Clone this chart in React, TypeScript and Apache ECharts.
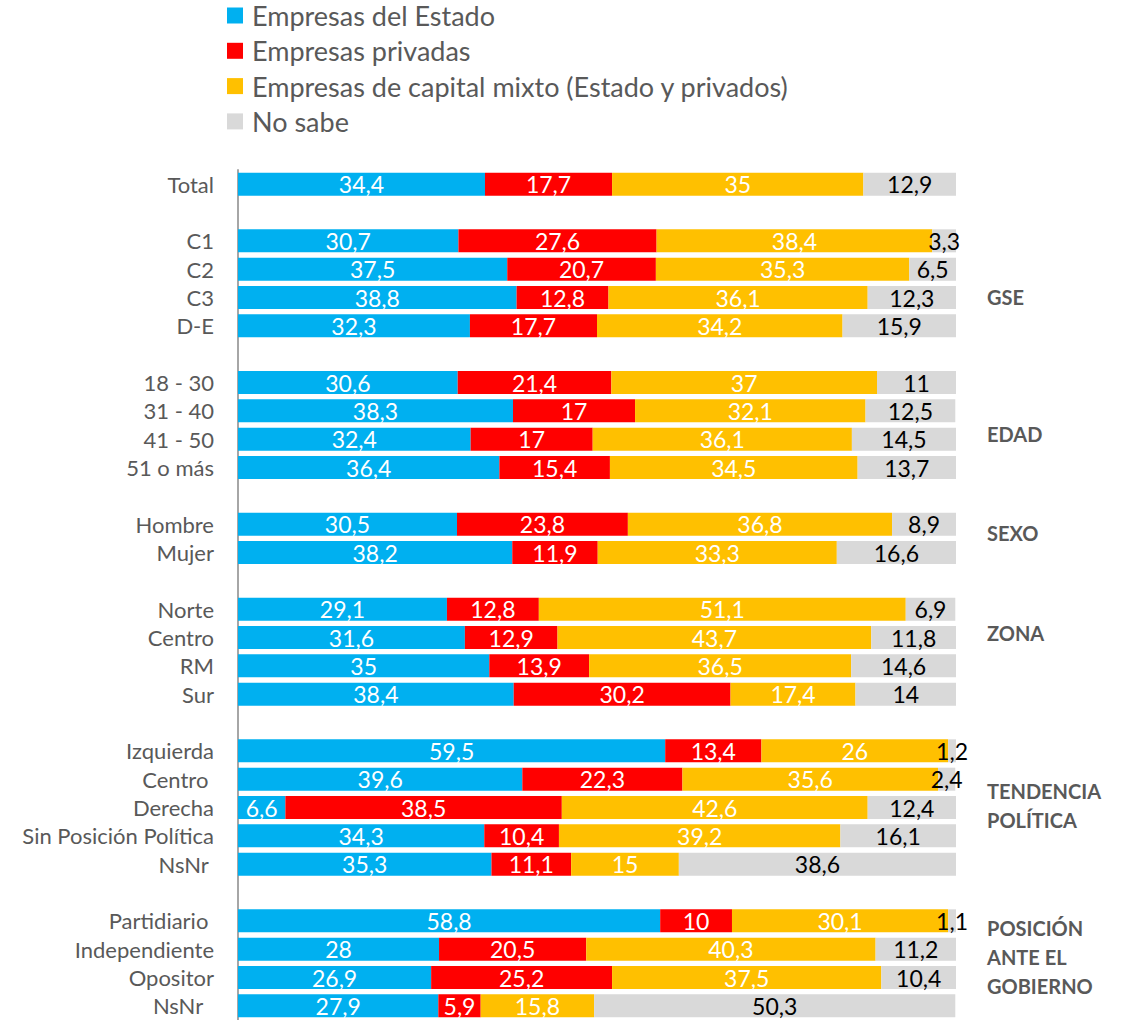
import React, { useEffect, useRef } from "react";
import * as echarts from "echarts";

const categories = [
  "Total", "",
  "C1", "C2", "C3", "D-E", " ",
  "18 - 30", "31 - 40", "41 - 50", "51 o más", "  ",
  "Hombre", "Mujer", "   ",
  "Norte", "Centro", "RM", "Sur", "    ",
  "Izquierda", "Centro ", "Derecha", "Sin Posición Política", "NsNr ", "     ",
  "Partidiario ", "Independiente", "Opositor", "NsNr  ",
];

const estado = [34.4, null, 30.7, 37.5, 38.8, 32.3, null, 30.6, 38.3, 32.4, 36.4, null, 30.5, 38.2, null, 29.1, 31.6, 35, 38.4, null, 59.5, 39.6, 6.6, 34.3, 35.3, null, 58.8, 28, 26.9, 27.9];
const privadas = [17.7, null, 27.6, 20.7, 12.8, 17.7, null, 21.4, 17, 17, 15.4, null, 23.8, 11.9, null, 12.8, 12.9, 13.9, 30.2, null, 13.4, 22.3, 38.5, 10.4, 11.1, null, 10, 20.5, 25.2, 5.9];
const mixto = [35, null, 38.4, 35.3, 36.1, 34.2, null, 37, 32.1, 36.1, 34.5, null, 36.8, 33.3, null, 51.1, 43.7, 36.5, 17.4, null, 26, 35.6, 42.6, 39.2, 15, null, 30.1, 40.3, 37.5, 15.8];
const noSabe = [12.9, null, 3.3, 6.5, 12.3, 15.9, null, 11, 12.5, 14.5, 13.7, null, 8.9, 16.6, null, 6.9, 11.8, 14.6, 14, null, 1.2, 2.4, 12.4, 16.1, 38.6, null, 1.1, 11.2, 10.4, 50.3];

const seriesNames = [
  "Empresas del Estado",
  "Empresas privadas",
  "Empresas de capital mixto (Estado y privados)",
  "No sabe",
];
const seriesData = [estado, privadas, mixto, noSabe];
const colors = ["#00B0F0", "#FF0000", "#FFC000", "#D9D9D9"];
const labelColors = ["#FFFFFF", "#FFFFFF", "#FFFFFF", "#000000"];

const groupLabels: { lines: string[]; y: number }[] = [
  { lines: ["GSE"], y: 297 },
  { lines: ["EDAD"], y: 434 },
  { lines: ["SEXO"], y: 533 },
  { lines: ["ZONA"], y: 633 },
  { lines: ["TENDENCIA", "POLÍTICA"], y: 805 },
  { lines: ["POSICIÓN", "ANTE EL", "GOBIERNO"], y: 957 },
];

const FONT = "Lato, 'Noto Sans', sans-serif";

export default function App() {
  const ref = useRef<HTMLDivElement>(null);
  useEffect(() => {
    document.body.style.margin = "0";
    const chart = echarts.init(ref.current!, null, { renderer: "svg" });
    const option: any = {
      animation: false,
      backgroundColor: "#FFFFFF",
      textStyle: { fontFamily: FONT },
      color: colors,
      legend: {
        orient: "vertical",
        left: 227,
        top: 2,
        padding: 0,
        icon: "rect",
        itemWidth: 16,
        itemHeight: 16,
        itemGap: 8.3,
        textStyle: { fontSize: 27, color: "#595959", fontFamily: FONT, padding: [0, 0, 0, 4] },
        data: seriesNames,
      },
      grid: { left: 238, top: 170, width: 718, height: 852, containLabel: false },
      xAxis: {
        type: "value",
        min: 0,
        max: 100,
        show: false,
      },
      yAxis: {
        type: "category",
        inverse: true,
        data: categories,
        axisTick: { show: false },
        axisLine: { show: true, lineStyle: { color: "#A6A6A6", width: 2 } },
        axisLabel: { color: "#595959", fontSize: 22, fontFamily: FONT, margin: 24, interval: 0 },
        splitLine: { show: false },
      },
      series: seriesNames.map((name, i) => ({
        name,
        type: "bar",
        stack: "total",
        barWidth: 23,
        data: seriesData[i],
        itemStyle: { color: colors[i] },
        label: {
          show: true,
          position: "inside",
          color: labelColors[i],
          fontSize: 23,
          fontFamily: FONT,
          formatter: (p: any) => String(p.value).replace(".", ","),
        },
      })),
      graphic: groupLabels.map((g) => ({
        type: "text",
        left: 987,
        top: g.y - (g.lines.length * 29) / 2,
        style: {
          text: g.lines.join("\n"),
          fill: "#595959",
          font: `bold 20px ${FONT}`,
          lineHeight: 29,
        },
      })),
    };
    chart.setOption(option);
    return () => chart.dispose();
  }, []);
  return (
    <div
      ref={ref}
      style={{ position: "absolute", left: 0, top: 0, width: 1132, height: 1020 }}
    />
  );
}
